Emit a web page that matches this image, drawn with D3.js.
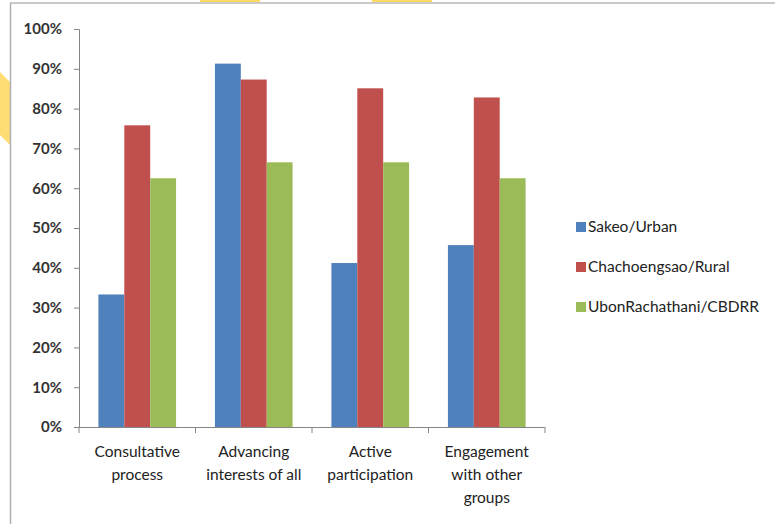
<!DOCTYPE html>
<html><head><meta charset="utf-8">
<script src="https://cdn.jsdelivr.net/npm/d3@7"></script>
<style>body{margin:0;background:#fff}svg{display:block}</style>
</head><body>
<script>
const categories = [["Consultative","process"],["Advancing","interests of all"],["Active","participation"],["Engagement","with other","groups"]];
const seriesNames = ["Sakeo/Urban","Chachoengsao/Rural","UbonRachathani/CBDRR"];
const sakeo = [0.333, 0.913, 0.412, 0.457];
const chachoengsao = [0.758, 0.873, 0.851, 0.828];
const ubon = [0.625, 0.665, 0.665, 0.625];
const yTicks = [0,0.1,0.2,0.3,0.4,0.5,0.6,0.7,0.8,0.9,1.0];
const colors = ["#4F81BD","#C0504D","#9BBB59"];

const W=775,H=524;
const svg=d3.select("body").append("svg").attr("width",W).attr("height",H);
const font="Lato, 'Open Sans', sans-serif";

// slide frame decorations
svg.append("path").attr("d","M0,72 L10,82 L10,145 L0,135Z").attr("fill","#FFD966").attr("opacity",0.9);
svg.append("rect").attr("x",200).attr("y",0).attr("width",60).attr("height",2).attr("fill","#FFD966");
svg.append("rect").attr("x",372).attr("y",0).attr("width",60).attr("height",2).attr("fill","#FFD966");
svg.append("line").attr("x1",10).attr("x2",W).attr("y1",3).attr("y2",3).attr("stroke","#c8c8c8").attr("stroke-width",2);
svg.append("line").attr("x1",10.5).attr("x2",10.5).attr("y1",3).attr("y2",H).attr("stroke","#b0b0b0").attr("stroke-width",1.5);

const m={l:79,r:545,t:29,b:427};
const x0=d3.scaleBand().domain(d3.range(categories.length)).range([m.l,m.r]).paddingInner(0).paddingOuter(0);
const x1=d3.scaleBand().domain(d3.range(3)).range([0,x0.bandwidth()]).paddingOuter(0.75).paddingInner(0);
const y=d3.scaleLinear().domain([0,1]).range([m.b,m.t]);

const data=[sakeo,chachoengsao,ubon];
const g=svg.append("g");
categories.forEach((c,i)=>{
  data.forEach((s,j)=>{
    g.append("rect").attr("x",x0(i)+x1(j)).attr("y",y(s[i])).attr("width",x1.bandwidth()).attr("height",m.b-y(s[i])).attr("fill",colors[j]);
  });
});

// y axis
const ya=svg.append("g").attr("transform",`translate(${m.l},0)`)
 .call(d3.axisLeft(y).tickValues(yTicks).tickFormat(d3.format(".0%")).tickSizeOuter(0).tickSize(5).tickPadding(12));
ya.select(".domain").attr("stroke","#868686");
ya.selectAll(".tick line").attr("stroke","#868686");
ya.selectAll("text").attr("font-family",font).attr("font-size",15).attr("font-weight","bold").attr("fill","#333");

// x axis
const xa=svg.append("g").attr("transform",`translate(0,${m.b})`);
xa.append("line").attr("x1",m.l-5).attr("x2",m.r).attr("y1",0.5).attr("y2",0.5).attr("stroke","#868686");
d3.range(categories.length+1).forEach(i=>{
  const xx=i<categories.length?x0(i):m.r;
  xa.append("line").attr("x1",xx).attr("x2",xx).attr("y1",0).attr("y2",6).attr("stroke","#868686");
});
categories.forEach((c,i)=>{
  const t=xa.append("text").attr("text-anchor","middle").attr("font-family",font).attr("font-size",15.5).attr("fill","#222");
  c.forEach((ln,k)=>t.append("tspan").attr("x",x0(i)+x0.bandwidth()/2).attr("y",30+k*23).text(ln));
});

// legend
const lg=svg.append("g");
seriesNames.forEach((n,j)=>{
  lg.append("rect").attr("x",576).attr("y",222+j*40).attr("width",10).attr("height",10).attr("fill",colors[j]);
  lg.append("text").attr("x",588).attr("y",232+j*40).attr("font-family",font).attr("font-size",15.5).attr("fill","#222").text(n);
});
</script>
</body></html>
